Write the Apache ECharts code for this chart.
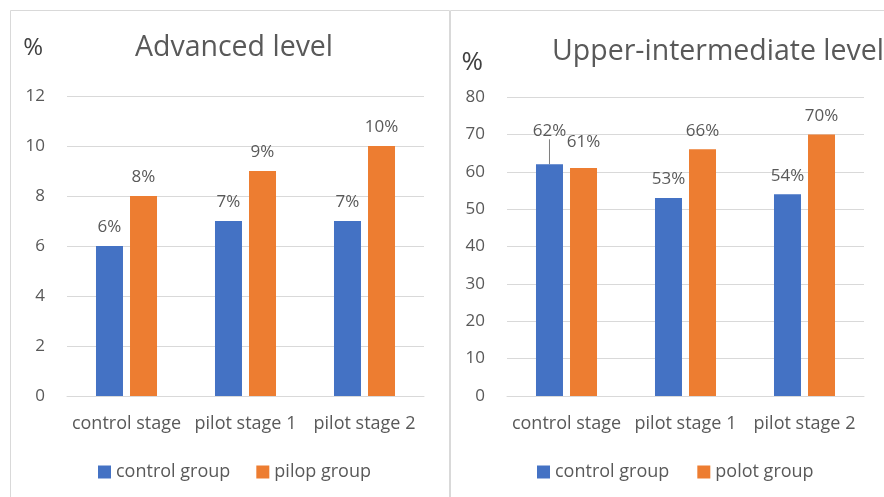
<!DOCTYPE html>
<html>
<head>
<meta charset="utf-8">
<script src="https://cdn.jsdelivr.net/npm/echarts@6/dist/echarts.min.js"></script>
<style>
html,body{margin:0;padding:0;background:#fff;}
#c{width:884px;height:497px;}
</style>
</head>
<body>
<div id="c"></div>
<script>
const categories = ['control stage', 'pilot stage 1', 'pilot stage 2'];
const advControl = [6, 7, 7];
const advPilot = [8, 9, 10];
const upControl = [62, 53, 54];
const upPilot = [61, 66, 70];
const advTicks = {min: 0, max: 12, interval: 2};
const upTicks = {min: 0, max: 80, interval: 10};
const titles = ['Advanced level', 'Upper-intermediate level'];
const legendLeft = ['control group', 'pilop group'];
const legendRight = ['control group', 'polot group'];

const FONT = 'Open Sans';
const TXT = '#595959';
const BLUE = '#4472C4';
const ORANGE = '#ED7D31';
const GRIDC = '#D9D9D9';

const chart = echarts.init(document.getElementById('c'), null, {renderer: 'canvas'});

function yAxis(gridIndex, t, nameSize, gap) {
  return {
    type: 'value', gridIndex: gridIndex, min: t.min, max: t.max, interval: t.interval,
    name: '%', nameLocation: 'end', nameGap: gap,
    nameTextStyle: {fontFamily: FONT, fontSize: nameSize, color: '#404040', align: 'right', padding: [0, 24, 0, 0]},
    axisLine: {show: false}, axisTick: {show: false},
    axisLabel: {fontFamily: FONT, fontSize: 17, color: TXT, margin: 22},
    splitLine: {lineStyle: {color: GRIDC, width: 1}}
  };
}
function xAxis(gridIndex) {
  return {
    type: 'category', gridIndex: gridIndex, data: categories,
    axisLine: {lineStyle: {color: GRIDC}}, axisTick: {show: false},
    axisLabel: {fontFamily: FONT, fontSize: 18, color: TXT, margin: 19, interval: 0}
  };
}
const labelBase = {show: true, position: 'top', distance: 10, fontFamily: FONT, fontSize: 17, color: TXT, formatter: '{c}%'};

const upControlData = upControl.map(function (v, i) {
  return i === 0 ? {value: v, labelLine: {show: true, lineStyle: {color: '#7f7f7f', width: 1}}} : v;
});

chart.setOption({
  animation: false,
  backgroundColor: '#fff',
  graphic: [
    {type: 'rect', shape: {x: 10.5, y: 10.5, width: 439, height: 520}, style: {fill: 'none', stroke: GRIDC, lineWidth: 1}},
    {type: 'rect', shape: {x: 450.5, y: 10.5, width: 460, height: 520}, style: {fill: 'none', stroke: GRIDC, lineWidth: 1}}
  ],
  title: [
    {text: titles[0], left: 229, top: 28, textAlign: 'center', textStyle: {fontFamily: FONT, fontSize: 28.5, fontWeight: 'normal', color: TXT}},
    {text: titles[1], left: 713, top: 32, textAlign: 'center', textStyle: {fontFamily: FONT, fontSize: 28.5, fontWeight: 'normal', color: TXT}}
  ],
  legend: [
    {data: legendLeft, left: 98, top: 463, padding: 0, itemWidth: 13, itemHeight: 13, itemGap: 26, icon: 'rect',
     textStyle: {fontFamily: FONT, fontSize: 18, color: TXT}},
    {data: legendRight, left: 537, top: 463, padding: 0, itemWidth: 13, itemHeight: 13, itemGap: 28, icon: 'rect',
     textStyle: {fontFamily: FONT, fontSize: 18, color: TXT}}
  ],
  grid: [
    {left: 67, right: 460, top: 96, bottom: 101},
    {left: 507, right: 20, top: 97, bottom: 101}
  ],
  xAxis: [xAxis(0), xAxis(1)],
  yAxis: [yAxis(0, advTicks, 24, 36), yAxis(1, upTicks, 26, 21)],
  series: [
    {name: legendLeft[0], type: 'bar', xAxisIndex: 0, yAxisIndex: 0, data: advControl, barWidth: 27, barGap: '26%',
     itemStyle: {color: BLUE}, label: labelBase},
    {name: legendLeft[1], type: 'bar', xAxisIndex: 0, yAxisIndex: 0, data: advPilot, barWidth: 27, barGap: '26%',
     itemStyle: {color: ORANGE}, label: labelBase},
    {name: legendRight[0], type: 'bar', xAxisIndex: 1, yAxisIndex: 1, data: upControlData, barWidth: 27, barGap: '26%',
     itemStyle: {color: BLUE}, label: labelBase,
     labelLine: {show: false},
     labelLayout: function (p) { return p.dataIndex === 0 ? {dy: -15} : {}; }},
    {name: legendRight[1], type: 'bar', xAxisIndex: 1, yAxisIndex: 1, data: upPilot, barWidth: 27, barGap: '26%',
     itemStyle: {color: ORANGE}, label: labelBase,
     labelLayout: function (p) { return p.dataIndex === 0 ? {dy: -7} : {}; }}
  ]
});
</script>
</body>
</html>
